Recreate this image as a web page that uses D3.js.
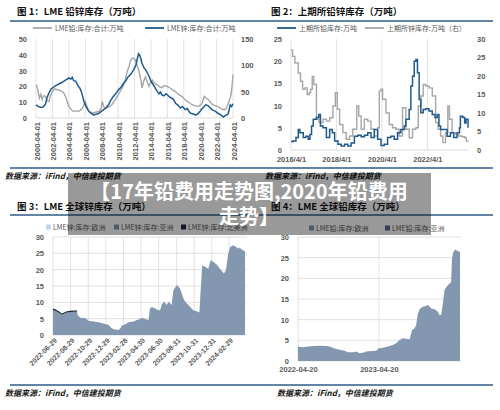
<!DOCTYPE html>
<html><head><meta charset="utf-8">
<script src="https://cdn.jsdelivr.net/npm/d3@7"></script>
<style>
body{margin:0;background:#fff;}
svg{display:block;font-family:"Liberation Sans","Noto Sans CJK SC",sans-serif;}
</style></head><body>
<svg id="c" width="500" height="410"></svg>
<script>
// ---------- Chart 1: LME lead / zinc stocks ----------
const c1TickLabels = ["2000-04-01","2002-04-01","2004-04-01","2006-04-01","2008-04-01","2010-04-01","2012-04-01","2014-04-01","2016-04-01","2018-04-01","2020-04-01","2022-04-01","2024-04-01"];
const c1LeftTicks = [0,10,20,30,40,50];
const c1RightTicks = [0,50,100,150];
const lmeZincDates = ["2000-04","2000-07","2000-11","2001-02","2001-04","2001-06","2001-08","2001-11","2002-02","2002-04","2002-07","2002-11","2003-02","2003-05","2003-08","2003-11","2004-02","2004-04","2004-07","2004-09","2004-11","2005-02","2005-04","2005-06","2005-08","2005-10","2005-12","2006-02","2006-05","2006-09","2006-12","2007-04","2007-08","2007-12","2008-03","2008-07","2008-10","2009-02","2009-05","2009-09","2010-01","2010-05","2010-08","2010-12","2011-03","2011-07","2011-10","2012-01","2012-03","2012-06","2012-08","2012-10","2012-12","2013-01","2013-03","2013-06","2013-09","2013-11","2014-02","2014-04","2014-06","2014-09","2014-11","2015-01","2015-04","2015-06","2015-08","2015-11","2016-02","2016-04","2016-07","2016-10","2017-01","2017-04","2017-07","2017-11","2018-02","2018-06","2018-09","2018-12","2019-02","2019-05","2019-09","2019-12","2020-04","2020-07","2020-10","2020-12","2021-03","2021-07","2021-10","2022-02","2022-06","2022-10","2022-12","2023-02","2023-04","2023-07","2023-09","2023-12","2024-02","2024-04"];
const lmeZinc = [25,22,20,21,23,27,38,48,55,57,60,63,65,67,69,72,74,76,74,77,71,70,65,60,57,51,42,32,22,13,9,6,7,9,12,16,19,25,33,41,47,54,58,66,70,79,82,88,92,100,112,122,118,114,104,95,90,85,77,70,66,60,55,51,46,49,44,42,46,44,40,38,35,28,25,19,22,16,18,12,9,8,6,7,13,18,22,25,24,19,15,13,9,6,4,2,4,6,8,25,22,27];
const lmeLeadDates = ["2000-04","2000-06","2000-09","2000-11","2001-01","2001-03","2001-06","2001-08","2001-11","2002-01","2002-04","2002-07","2002-11","2003-03","2003-06","2003-09","2003-11","2004-02","2004-04","2004-08","2004-11","2005-03","2005-07","2005-09","2005-12","2006-04","2006-06","2006-09","2007-01","2007-04","2007-08","2007-12","2008-03","2008-05","2008-07","2008-12","2009-04","2009-07","2009-11","2010-03","2010-06","2010-10","2011-01","2011-03","2011-05","2011-08","2011-10","2012-01","2012-03","2012-05","2012-08","2012-10","2013-01","2013-03","2013-06","2013-08","2014-01","2014-03","2014-06","2014-09","2015-01","2015-04","2015-08","2015-11","2016-04","2016-08","2016-11","2017-03","2017-06","2017-10","2018-01","2018-05","2018-09","2019-01","2019-04","2019-08","2019-12","2020-04","2020-07","2020-10","2021-01","2021-04","2021-07","2021-10","2022-01","2022-05","2022-09","2022-12","2023-03","2023-05","2023-08","2023-10","2023-12","2024-01","2024-02","2024-03","2024-04"];
const lmeLead = [21,19,12.6,15,11.6,14,13.7,11,10.5,14,16.8,18.5,17.9,17.5,16.8,15.5,13.7,10,7.4,5,4.2,4.5,4.2,5,6.3,10.5,8,4.2,3.5,3.2,3.8,4.2,6,10.5,7,6.3,7.5,8.4,11,13.7,16,19,22,25,29,32.6,36,38,37.5,37,33,30.5,25,19,24,26,20,22,24,22,21,20,19,20.5,20,19,18,17,15.8,14.5,13.7,12,10.5,9.5,8.4,7.8,7.4,8,9.5,13.7,12.5,11.6,10,8.4,8,7.4,6.5,5.3,5.5,5.3,8,10.5,13,14.7,18,22,27.5];

// ---------- Chart 2: SHFE lead / zinc stocks ----------
const c2TickLabels = ["2016-04-01","2018-04-01","2020-04-01","2022-04-01"];
const c2LeftTicks = [0,5,10,15,20,25];
const c2RightTicks = [0,5,10,15,20,25,30];
const shfeLeadDates = ["2016-04-01","2016-05-08","2016-06-20","2016-07-27","2016-08-22","2016-09-19","2016-10-15","2016-11-25","2017-01-03","2017-01-31","2017-02-25","2017-03-25","2017-05-15","2017-06-21","2017-07-18","2017-08-28","2017-10-22","2017-12-13","2018-01-25","2018-03-03","2018-04-26","2018-06-17","2018-08-10","2018-10-01","2018-11-23","2019-01-15","2019-03-10","2019-05-03","2019-06-24","2019-08-17","2019-10-08","2019-12-01","2020-01-23","2020-03-17","2020-05-08","2020-07-01","2020-08-23","2020-10-15","2020-12-08","2021-01-30","2021-03-25","2021-04-21","2021-06-13","2021-07-10","2021-08-06","2021-09-02","2021-09-29","2021-10-24","2021-11-20","2021-12-17","2022-01-24","2022-03-05","2022-04-27","2022-06-19","2022-08-01","2022-09-07","2022-10-04","2022-10-31","2022-12-22","2023-02-13","2023-04-07","2023-05-29","2023-07-22","2023-08-30","2023-09-14","2023-10-21","2023-11-22","2023-12-13","2024-01-14"];
const shfeLead = [1.9,2.0,2.8,4.6,3.9,3.9,2.8,3.1,2.4,3.5,5.4,6.9,7.3,8.0,5.4,5.0,2.8,4.6,3.9,2.0,1.3,0.9,1.3,0.9,1.6,3.1,3.3,3.0,3.3,3.9,2.8,4.6,2.4,1.0,1.3,2.8,3.1,2.4,3.9,4.6,5.4,6.9,9.1,14.4,16.6,20.0,20.4,17.4,11.4,8.4,9.1,9.3,8.8,8.0,7.3,8.0,5.4,4.6,4.6,3.1,3.9,2.8,3.9,5.0,7.6,7.3,6.1,6.9,5.0];
const shfeZincDates = ["2016-04-01","2016-04-27","2016-06-03","2016-07-27","2016-09-01","2016-10-04","2016-11-10","2016-12-17","2017-01-19","2017-02-10","2017-03-08","2017-04-03","2017-05-15","2017-06-27","2017-08-28","2017-10-22","2017-12-13","2018-02-04","2018-03-14","2018-04-15","2018-05-22","2018-07-14","2018-09-05","2018-10-28","2018-12-20","2019-02-22","2019-03-26","2019-05-03","2019-06-24","2019-08-17","2019-10-08","2019-12-01","2020-01-23","2020-02-19","2020-03-17","2020-04-12","2020-06-04","2020-07-27","2020-09-18","2020-11-10","2021-01-03","2021-02-26","2021-04-21","2021-06-13","2021-08-06","2021-09-29","2021-11-06","2021-12-17","2022-01-24","2022-03-05","2022-04-27","2022-06-19","2022-08-12","2022-09-23","2022-10-31","2022-12-06","2023-01-18","2023-02-24","2023-03-22","2023-05-03","2023-06-25","2023-08-17","2023-10-09","2023-11-22","2023-12-18","2024-01-14"];
const shfeZinc = [27,25.3,23.5,20.8,18.6,16.4,16.8,15.0,15.5,16.4,19.9,17.7,8.3,7.4,8.3,7.8,8.7,11.9,15.5,11,6.9,4.7,2.9,3.8,5.6,11.9,9.2,5.6,8.3,7.8,5.6,3.8,6.0,15.9,16.4,13.7,10,6.9,6.0,5.6,3.8,11.4,5.6,3.3,5.6,6.0,11.9,14.6,17.7,17.3,16.8,14.6,7.4,5.6,3.8,2.0,4.7,11.9,8.3,4.7,4.2,3.8,3.6,3.3,2.4,2.2];

// ---------- Chart 3: LME zinc stocks by region ----------
const c3TickLabels = ["2022-06-29","2022-08-29","2022-10-29","2022-12-29","2023-02-28","2023-04-30","2023-06-30","2023-08-31","2023-10-31","2023-12-31","2024-02-29"];
const c3YTicks = [0,5,10,15,20,25,30];
const zincRegionDates = ["2022-06-29","2022-07-07","2022-07-19","2022-07-30","2022-08-07","2022-08-16","2022-08-28","2022-09-08","2022-09-20","2022-09-22","2022-10-01","2022-10-19","2022-10-30","2022-11-17","2022-12-04","2022-12-27","2023-01-07","2023-01-19","2023-01-30","2023-02-11","2023-02-17","2023-02-22","2023-03-06","2023-03-18","2023-04-04","2023-04-15","2023-04-27","2023-05-03","2023-05-14","2023-05-26","2023-05-31","2023-06-06","2023-06-18","2023-06-29","2023-07-05","2023-07-11","2023-07-19","2023-07-28","2023-08-03","2023-08-14","2023-08-20","2023-09-01","2023-09-12","2023-09-18","2023-09-26","2023-10-05","2023-10-17","2023-10-28","2023-11-09","2023-11-18","2023-11-22","2023-11-28","2023-12-07","2023-12-19","2023-12-27","2024-01-05","2024-01-17","2024-01-28","2024-02-07","2024-02-11","2024-02-18","2024-02-26","2024-03-03","2024-03-14","2024-03-26","2024-04-01","2024-04-06","2024-04-12","2024-04-18","2024-04-24"];
const zincEurope = [0,0,0,0,0,0,0,0,0,0,0,0,0,0,0,0,0,0,0,0,0,0,0,0,0,0,0,0,0,0,0,0,0,0,0,0,0,0,0,0,0,0,0,0,0,0,0,0,0,0,0,0,0,0,0,0,0,0,0,0,0,0,0,0,0,0,0,0,0,0];
const zincAsia = [7.6,7.4,6.8,6.2,6.5,6.9,7.0,7.1,7.1,6.1,5.3,5.1,4.4,4.1,3.9,3.4,3.1,2.0,1.7,1.5,2.0,2.8,3.3,3.9,4.1,4.6,4.9,5.3,4.9,4.6,8.1,8.6,8.1,7.6,7.6,9.4,10.2,9.2,10.2,9.2,13.7,15.3,14.2,12.7,10.7,9.7,8.6,7.6,7.3,6.9,13.2,21.4,20.9,20.3,22.9,22.4,21.6,20.3,19.3,18.8,19.8,24.9,26.9,27.5,26.9,26.4,26.9,26.2,25.9,25.6];
const zincNorthAmerica = [0.5,0.5,0.5,0.4,0.4,0.4,0.4,0.4,0.4,0,0,0,0,0,0,0,0,0,0,0,0,0,0,0,0,0,0,0,0,0,0,0,0,0,0,0,0,0,0,0,0,0,0,0,0,0,0,0,0,0,0,0,0,0,0,0,0,0,0,0,0,0,0,0,0,0,0,0,0,0];

// ---------- Chart 4: LME lead stocks by region ----------
const c4TickLabels = ["2022-04-20","2023-04-20"];
const c4YTicks = [0,5,10,15,20,25,30];
const leadRegionDates = ["2022-04-20","2022-05-13","2022-06-04","2022-06-27","2022-07-27","2022-08-26","2022-09-10","2022-10-02","2022-10-25","2022-11-16","2022-12-01","2022-12-24","2023-01-08","2023-01-23","2023-02-07","2023-02-22","2023-03-16","2023-04-08","2023-04-20","2023-05-08","2023-05-31","2023-06-22","2023-07-07","2023-07-22","2023-08-06","2023-08-21","2023-09-05","2023-09-17","2023-09-28","2023-10-05","2023-10-13","2023-10-23","2023-11-04","2023-11-19","2023-11-27","2023-12-12","2023-12-27","2024-01-03","2024-01-11","2024-01-18","2024-01-26","2024-02-02","2024-02-10","2024-02-17","2024-02-25","2024-03-03","2024-03-11","2024-03-15","2024-03-21","2024-03-30","2024-04-10","2024-04-20"];
const leadEurope = [3.5,3.3,3.5,3.6,3.7,3.6,3.5,3.0,2.7,2.5,2.1,2.1,2.3,1.9,2.0,2.3,2.4,2.5,3.1,3.2,3.5,3.9,4.3,5.1,5.5,5.4,5.2,7.5,7.9,8.7,11.5,12.7,13.1,13.3,13.6,12.7,12.5,12.3,11.9,11.1,11.1,13.6,17.1,17.8,18.3,18.7,19.1,24.8,26.4,27.0,26.6,26.4];
const leadAsia = [0,0,0,0,0,0,0,0,0,0,0,0,0,0,0,0,0,0,0,0,0,0,0,0,0,0,0,0,0,0,0,0,0,0,0,0,0,0,0,0,0,0,0,0,0,0,0,0,0,0,0,0];

const overlayLines = ["【17年铅费用走势图,2020年铅费用","走势】"];

// ---------- drawing ----------
const svg = d3.select("#c");
const parseYM = d3.timeParse("%Y-%m");
const parseD = d3.timeParse("%Y-%m-%d");
const BLUE = "#1f5a8c", GRAY = "#a6a6a6", GRID = "#d9d9d9", TXT = "#595959", RULE = "#2e5c87";
const CJK = "'Noto Sans CJK SC',sans-serif";

function rule(y){ svg.append("line").attr("x1",10).attr("x2",493).attr("y1",y).attr("y2",y).attr("stroke",RULE).attr("stroke-width",1.6); }
function title(x,y,t){ svg.append("text").attr("x",x).attr("y",y).attr("font-family",CJK).attr("font-weight","bold").attr("font-size",9.5).attr("fill","#111").text(t); }
function source(x,y){ svg.append("text").attr("x",x).attr("y",y).attr("font-family",CJK).attr("font-weight","bold").attr("font-style","italic").attr("font-size",8).attr("fill","#111").text("数据来源：iFind，中信建投期货"); }
function styleAxis(g){ g.select(".domain").remove(); g.selectAll("line").remove(); g.selectAll("text").attr("fill",TXT).attr("font-size",7.5).attr("font-weight","bold"); }
function lineLegend(x,y,color,t){ svg.append("line").attr("x1",x).attr("x2",x+19).attr("y1",y).attr("y2",y).attr("stroke",color).attr("stroke-width",1.8);
  svg.append("text").attr("x",x+22).attr("y",y+2.5).attr("font-family",CJK).attr("font-size",7).attr("fill",TXT).text(t); }
function boxLegend(x,y,color,t){ svg.append("rect").attr("x",x).attr("y",y-2.5).attr("width",5).attr("height",5).attr("fill",color);
  svg.append("text").attr("x",x+7).attr("y",y+2.5).attr("font-family",CJK).attr("font-size",7).attr("fill",TXT).text(t); }

// rules, titles, sources
rule(21); rule(168); rule(215); rule(385);
title(17,15,"图 1：LME 铅锌库存（万吨）");
title(271,15,"图 2：上期所铅锌库存（万吨）");
title(17,210,"图 3：LME 全球锌库存（万吨）");
title(271,210,"图 4：LME 全球铅库存（万吨）");
source(5,179); source(265,179); source(5,396); source(277,396);

// ---- Chart 1 ----
{
  const x = d3.scaleTime().domain([parseYM("2000-04"), parseYM("2024-04")]).range([36,233]);
  const yL = d3.scaleLinear().domain([0,50]).range([118,39]);
  const yR = d3.scaleLinear().domain([0,150]).range([118,39]);
  const ticks = c1TickLabels.map(parseD);
  svg.append("g").selectAll("line").data(ticks).join("line")
    .attr("x1",d=>x(d)).attr("x2",d=>x(d)).attr("y1",39).attr("y2",118).attr("stroke",GRID).attr("stroke-width",0.8);
  svg.append("line").attr("x1",36).attr("x2",233).attr("y1",118).attr("y2",118).attr("stroke",GRID);
  const gl = svg.append("g").attr("transform","translate(36,0)").call(d3.axisLeft(yL).tickValues(c1LeftTicks).tickSize(0).tickPadding(9)); styleAxis(gl);
  const gr = svg.append("g").attr("transform","translate(233,0)").call(d3.axisRight(yR).tickValues(c1RightTicks).tickSize(0).tickPadding(8)); styleAxis(gr);
  const gx = svg.append("g").attr("transform","translate(0,118)").call(d3.axisBottom(x).tickValues(ticks).tickSize(0).tickFormat(d3.timeFormat("%Y-%m-%d"))); styleAxis(gx);
  gx.selectAll("text").attr("text-anchor","end").attr("dy",0).attr("y",0).attr("transform","translate(3,4) rotate(-90)");
  const lead = lmeLeadDates.map((d,i)=>({d:parseYM(d),v:lmeLead[i]}));
  const zinc = lmeZincDates.map((d,i)=>({d:parseYM(d),v:lmeZinc[i]}));
  svg.append("path").datum(lead).attr("fill","none").attr("stroke",GRAY).attr("stroke-width",1.4)
    .attr("d",d3.line().x(p=>x(p.d)).y(p=>yL(p.v)));
  svg.append("path").datum(zinc).attr("fill","none").attr("stroke",BLUE).attr("stroke-width",1.5)
    .attr("d",d3.line().x(p=>x(p.d)).y(p=>yR(p.v)));
  lineLegend(33,28,GRAY,"LME铅:库存:合计:万吨");
  lineLegend(145,28,BLUE,"LME锌:库存:合计:万吨");
}

// ---- Chart 2 ----
{
  const x = d3.scaleTime().domain([parseD("2016-04-01"), parseD("2024-01-14")]).range([291,468]);
  const yL = d3.scaleLinear().domain([0,25]).range([150,39]);
  const yR = d3.scaleLinear().domain([0,30]).range([150,39]);
  const ticks = c2TickLabels.map(parseD);
  svg.append("g").selectAll("line").data(ticks).join("line")
    .attr("x1",d=>x(d)).attr("x2",d=>x(d)).attr("y1",39).attr("y2",150).attr("stroke",GRID).attr("stroke-width",0.8);
  svg.append("line").attr("x1",291).attr("x2",468).attr("y1",150).attr("y2",150).attr("stroke",GRID);
  const gl = svg.append("g").attr("transform","translate(291,0)").call(d3.axisLeft(yL).tickValues(c2LeftTicks).tickSize(0).tickPadding(9)); styleAxis(gl);
  const gr = svg.append("g").attr("transform","translate(468,0)").call(d3.axisRight(yR).tickValues(c2RightTicks).tickSize(0).tickPadding(9)); styleAxis(gr);
  const gx = svg.append("g").attr("transform","translate(0,150)").call(d3.axisBottom(x).tickValues(ticks).tickSize(0).tickPadding(7).tickFormat(d3.timeFormat("%Y/%-m/%-d"))); styleAxis(gx);
  const zinc = shfeZincDates.map((d,i)=>({d:parseD(d),v:shfeZinc[i]}));
  const lead = shfeLeadDates.map((d,i)=>({d:parseD(d),v:shfeLead[i]}));
  svg.append("path").datum(zinc).attr("fill","none").attr("stroke",GRAY).attr("stroke-width",1.4)
    .attr("d",d3.line().x(p=>x(p.d)).y(p=>yR(p.v)).curve(d3.curveStepAfter));
  svg.append("path").datum(lead).attr("fill","none").attr("stroke",BLUE).attr("stroke-width",1.5)
    .attr("d",d3.line().x(p=>x(p.d)).y(p=>yL(p.v)).curve(d3.curveStepAfter));
  lineLegend(277,28,BLUE,"上期所铅库存:万吨");
  lineLegend(365,28,GRAY,"上期所锌库存:万吨（右）");
}

// ---- Chart 3 ----
{
  const x = d3.scaleTime().domain([parseD("2022-06-29"), parseD("2024-04-24")]).range([53,245]);
  const y = d3.scaleLinear().domain([0,30]).range([335,237]);
  const ticks = c3TickLabels.map(parseD);
  svg.append("g").selectAll("line").data(c3YTicks).join("line")
    .attr("x1",53).attr("x2",247).attr("y1",d=>y(d)).attr("y2",d=>y(d)).attr("stroke",GRID).attr("stroke-width",0.8);
  svg.append("g").selectAll("line").data(ticks).join("line")
    .attr("x1",d=>x(d)).attr("x2",d=>x(d)).attr("y1",237).attr("y2",335).attr("stroke",GRID).attr("stroke-width",0.8);
  const rows = zincRegionDates.map((d,i)=>({d:parseD(d),europe:zincEurope[i],asia:zincAsia[i],na:zincNorthAmerica[i]}));
  const keys = ["europe","asia","na"], cols = {europe:"#bdd7ee",asia:"#8497b0",na:"#1e2b3f"};
  const stack = d3.stack().keys(keys)(rows);
  const area = d3.area().x(p=>x(p.data.d)).y0(p=>y(p[0])).y1(p=>y(p[1]));
  svg.append("g").selectAll("path").data(stack).join("path").attr("fill",s=>cols[s.key]).attr("d",area);
  const gl = svg.append("g").attr("transform","translate(53,0)").call(d3.axisLeft(y).tickValues(c3YTicks).tickSize(0).tickPadding(9)); styleAxis(gl);
  const gx = svg.append("g").attr("transform","translate(0,335)").call(d3.axisBottom(x).tickValues(ticks).tickSize(0).tickFormat(d3.timeFormat("%Y-%m-%d"))); styleAxis(gx);
  gx.selectAll("text").attr("text-anchor","end").attr("dy",0).attr("y",0).attr("font-size",7).attr("transform","translate(4,6) rotate(-45)");
  boxLegend(46,227,cols.europe,"LME锌:库存:欧洲");
  boxLegend(114,227,cols.asia,"LME锌:库存:亚洲");
  boxLegend(181,227,cols.na,"LME锌:库存:北美洲");
}

// ---- Chart 4 ----
{
  const x = d3.scaleTime().domain([parseD("2022-04-20"), parseD("2024-04-20")]).range([298,460]);
  const y = d3.scaleLinear().domain([0,30]).range([361,237]);
  const ticks = c4TickLabels.map(parseD);
  svg.append("g").selectAll("line").data(c4YTicks).join("line")
    .attr("x1",298).attr("x2",461).attr("y1",d=>y(d)).attr("y2",d=>y(d)).attr("stroke",GRID).attr("stroke-width",0.8);
  svg.append("g").selectAll("line").data(ticks).join("line")
    .attr("x1",d=>x(d)).attr("x2",d=>x(d)).attr("y1",237).attr("y2",361).attr("stroke",GRID).attr("stroke-width",0.8);
  const rows = leadRegionDates.map((d,i)=>({d:parseD(d),europe:leadEurope[i],asia:leadAsia[i]}));
  const keys = ["europe","asia"], cols = {europe:"#8497b0",asia:"#59698a"};
  const stack = d3.stack().keys(keys)(rows);
  const area = d3.area().x(p=>x(p.data.d)).y0(p=>y(p[0])).y1(p=>y(p[1]));
  svg.append("g").selectAll("path").data(stack).join("path").attr("fill",s=>cols[s.key]).attr("d",area);
  const gl = svg.append("g").attr("transform","translate(298,0)").call(d3.axisLeft(y).tickValues(c4YTicks).tickSize(0).tickPadding(9)); styleAxis(gl);
  const gx = svg.append("g").attr("transform","translate(0,361)").call(d3.axisBottom(x).tickValues(ticks).tickSize(0).tickPadding(6).tickFormat(d3.timeFormat("%Y-%m-%d"))); styleAxis(gx);
  boxLegend(309,228,cols.europe,"LME铅:库存:欧洲");
  boxLegend(385,228,cols.asia,"LME铅:库存:亚洲");
}

// ---- overlay title ----
svg.append("rect").attr("x",68).attr("y",173).attr("width",363).attr("height",62).attr("fill","rgba(0,0,0,0.4)");
svg.append("g").selectAll("text").data(overlayLines).join("text")
  .attr("x",249).attr("y",(d,i)=>199+i*25).attr("text-anchor","middle")
  .attr("font-family",CJK).attr("font-weight","bold").attr("font-size",20).attr("fill","#fff").text(d=>d);
</script>
</body></html>
